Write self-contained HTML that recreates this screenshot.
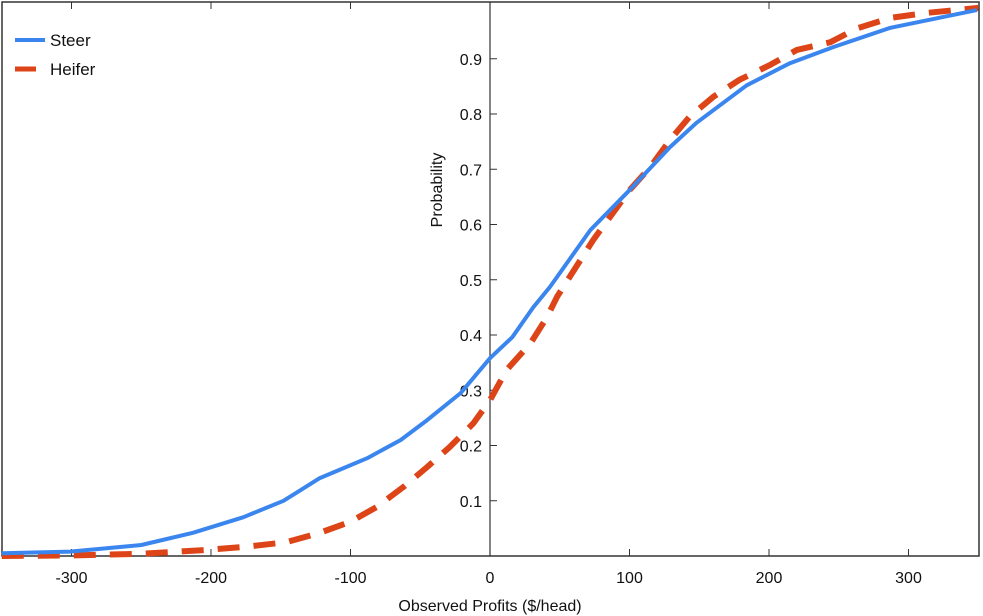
<!DOCTYPE html>
<html><head><meta charset="utf-8"><style>
html,body{margin:0;padding:0;background:#fff;}
svg{display:block;font-family:"Liberation Sans",sans-serif;}
</style></head><body>
<svg id="chart" width="983" height="616">
<rect x="2" y="2" width="977" height="554" fill="none" stroke="#333" stroke-width="1.5"/>
<g id="axes"></g>
<g id="series"></g>
<g>
<line x1="15" y1="40" x2="45" y2="40" stroke="#3a86ee" stroke-width="4"/>
<text x="50" y="46" font-size="17" fill="#111">Steer</text>
<line x1="15" y1="69" x2="36" y2="69" stroke="#dd4418" stroke-width="5"/>
<text x="50" y="75" font-size="17" fill="#111">Heifer</text>
</g>
<text x="490" y="611" font-size="16" text-anchor="middle" fill="#111">Observed Profits ($/head)</text>
<text transform="translate(442,190) rotate(-90)" font-size="16" text-anchor="middle" fill="#111">Probability</text>
</svg>
<script>
const xTicks=[-300,-200,-100,0,100,200,300];
const yTicks=[0.1,0.2,0.3,0.4,0.5,0.6,0.7,0.8,0.9];
const steerX=[-350,-301,-250,-213,-177,-148,-136,-122,-88,-64,-45,-21,0,16,31,43,72,100,129,148,184,215,246,287,349];
const steerY=[0.005,0.008,0.02,0.042,0.07,0.1,0.119,0.141,0.177,0.21,0.246,0.295,0.358,0.396,0.45,0.487,0.59,0.662,0.74,0.784,0.852,0.892,0.921,0.956,0.988];
const heiferX=[-350,-300,-250,-203,-174,-146,-122,-100,-81,-62,-45,-29,-12,0,12,29,41,48,74,100,115,129,143,160,179,201,220,244,263,287,313,342,350];
const heiferY=[0.0,0.001,0.004,0.011,0.017,0.025,0.042,0.062,0.089,0.125,0.161,0.197,0.24,0.282,0.337,0.385,0.433,0.469,0.572,0.662,0.704,0.753,0.795,0.831,0.862,0.889,0.916,0.93,0.955,0.974,0.983,0.99,0.992];
const NS='http://www.w3.org/2000/svg';
const sx=v=>490+v*1.395;
const sy=p=>556-p*552.5;
const axes=document.getElementById('axes'),ser=document.getElementById('series');
function mk(tag,attrs,parent){const e=document.createElementNS(NS,tag);for(const k in attrs)e.setAttribute(k,attrs[k]);parent.appendChild(e);return e;}
const yax=mk('line',{x1:490,y1:2,x2:490,y2:556,stroke:'#333','stroke-width':1.2},axes);


xTicks.forEach(v=>{
 const t=mk('line',{x1:sx(v),x2:sx(v),y1:556,y2:549,stroke:'#333'},axes);
 
 
 const t2=mk('line',{x1:sx(v),x2:sx(v),y1:2,y2:9,stroke:'#333'},axes);
 
 
 const l=mk('text',{x:sx(v),y:583,'font-size':16,'text-anchor':'middle',fill:'#111'},axes);
 l.textContent=String(v);
 
 
});
yTicks.forEach(v=>{
 const t=mk('line',{x1:490,x2:497,y1:sy(v),y2:sy(v),stroke:'#333'},axes);
 
 
 const l=mk('text',{x:482,y:sy(v)+6,'font-size':16,'text-anchor':'end',fill:'#111'},axes);
 l.textContent=String(v);
 
 
});
function path(xs,ys){return xs.map((x,i)=>(i?'L':'M')+sx(x).toFixed(1)+','+sy(ys[i]).toFixed(1)).join(' ');}
const h=mk('path',{d:path(heiferX,heiferY),fill:'none',stroke:'#dd4418','stroke-width':6,'stroke-dasharray':'22,14','stroke-linejoin':'round'},ser);


const s=mk('path',{d:path(steerX,steerY),fill:'none',stroke:'#3a86ee','stroke-width':4,'stroke-linejoin':'round'},ser);


</script>
</body></html>
